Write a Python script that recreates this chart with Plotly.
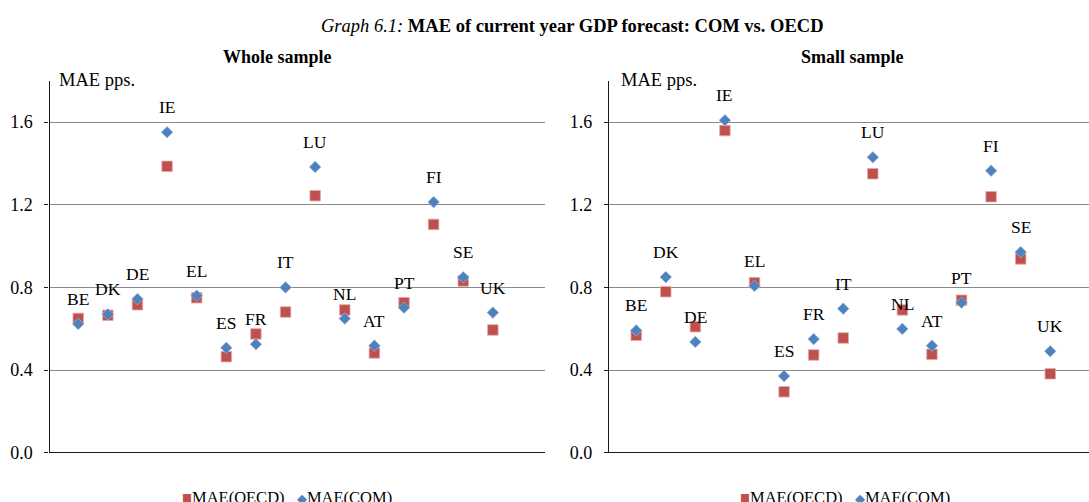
import plotly.graph_objects as go
from plotly.subplots import make_subplots

countries = ["BE", "DK", "DE", "IE", "EL", "ES", "FR", "IT", "LU", "NL", "AT", "PT", "FI", "SE", "UK"]

whole_oecd = [0.650, 0.665, 0.716, 1.386, 0.750, 0.465, 0.575, 0.681, 1.244, 0.691, 0.483, 0.726, 1.105, 0.831, 0.594]
whole_com = [0.623, 0.670, 0.744, 1.551, 0.760, 0.508, 0.525, 0.800, 1.383, 0.649, 0.518, 0.702, 1.213, 0.849, 0.678]

small_oecd = [0.568, 0.779, 0.610, 1.559, 0.823, 0.295, 0.473, 0.555, 1.350, 0.691, 0.476, 0.738, 1.239, 0.938, 0.382]
small_com = [0.592, 0.850, 0.536, 1.609, 0.807, 0.371, 0.550, 0.697, 1.430, 0.599, 0.518, 0.726, 1.365, 0.971, 0.491]

y_ticks = [0.0, 0.4, 0.8, 1.2, 1.6]

RED = "#C0504D"
BLUE = "#4F81BD"
FONT = "Liberation Serif"
W, H = 1089, 502

xpos = list(range(1, len(countries) + 1))

fig = make_subplots(rows=1, cols=2)

panels = [(whole_oecd, whole_com, 1), (small_oecd, small_com, 2)]
for oecd, com, col in panels:
    fig.add_trace(go.Scatter(x=xpos, y=oecd, mode="markers", name="MAE(OECD)",
                             marker=dict(symbol="square", size=10.5, color=RED,
                                         line=dict(width=0.8, color="#E3A9A7")),
                             showlegend=False), row=1, col=col)
    fig.add_trace(go.Scatter(x=xpos, y=com, mode="markers", name="MAE(COM)",
                             marker=dict(symbol="diamond", size=9, color=BLUE,
                                         line=dict(width=0.6, color="#A9C1E0")),
                             showlegend=False), row=1, col=col)
    xr = "x" if col == 1 else "x2"
    yr = "y" if col == 1 else "y2"
    for xi, c, lab in zip(xpos, com, countries):
        fig.add_annotation(x=xi, y=c, xref=xr, yref=yr, text=lab, showarrow=False,
                           xanchor="center", yanchor="middle",
                           yshift=25, font=dict(family=FONT, size=17.5, color="black"))

ydom = [1 - 452.7 / H, 1 - 80.8 / H]
fig.update_layout(
    width=W, height=H,
    margin=dict(l=0, r=0, t=0, b=0, pad=0, autoexpand=False),
    paper_bgcolor="white", plot_bgcolor="white",
    font=dict(family=FONT, size=16, color="black"),
    xaxis=dict(domain=[49.5 / W, 545 / W], range=[0.03, 16.76]),
    xaxis2=dict(domain=[609 / W, 1.0], range=[0.08, 16.31]),
)
for ax in ["xaxis", "xaxis2"]:
    fig.layout[ax].update(showgrid=False, zeroline=False, showticklabels=False,
                          showline=False, ticks="", automargin=False)
for ax in ["yaxis", "yaxis2"]:
    fig.layout[ax].update(domain=ydom, range=[0, 1.8], tickvals=y_ticks,
                          ticktext=[f"{v:.1f}" for v in y_ticks], automargin=False,
                          showgrid=True, gridcolor="#8A8A8A", gridwidth=1.4,
                          zeroline=True, zerolinecolor="#1a1a1a", zerolinewidth=1.4,
                          showline=True, linecolor="#1a1a1a", linewidth=1.4,
                          ticks="outside", ticklen=4, tickcolor="#1a1a1a",
                          tickfont=dict(family=FONT, size=18, color="black"),
                          ticklabelstandoff=8)

def pap(px, py):
    return px / W, 1 - py / H

# titles
tx, ty = pap(572, 26)
fig.add_annotation(x=tx, y=ty, xref="paper", yref="paper", showarrow=False,
                   xanchor="center", yanchor="middle",
                   text="<i>Graph 6.1:</i> <b>MAE of current year GDP forecast: COM vs. OECD</b>",
                   font=dict(family=FONT, size=18.5, color="black"))
for cx, txt in [(277, "Whole sample"), (852, "Small sample")]:
    x, y = pap(cx, 57)
    fig.add_annotation(x=x, y=y, xref="paper", yref="paper", showarrow=False,
                       xanchor="center", yanchor="middle",
                       text=f"<b>{txt}</b>", font=dict(family=FONT, size=18, color="black"))
for lx in [57, 619]:
    x, y = pap(lx, 80)
    fig.add_annotation(x=x, y=y, xref="paper", yref="paper", showarrow=False,
                       xanchor="left", yanchor="middle", text="MAE pps.",
                       font=dict(family=FONT, size=18.5, color="black"))
# legends
for lx in [180, 738]:
    x, y = pap(lx, 497)
    fig.add_annotation(x=x, y=y, xref="paper", yref="paper", showarrow=False,
                       xanchor="left", yanchor="middle",
                       text=f"<span style='color:{RED}'>■</span>MAE(OECD)   "
                            f"<span style='color:{BLUE};font-size:13px'>◆</span>MAE(COM)",
                       font=dict(family=FONT, size=16.5, color="black"))

fig.write_html("out.html", config={"displayModeBar": False},
               post_script="document.body.style.margin='0';document.body.style.overflow='hidden';")
